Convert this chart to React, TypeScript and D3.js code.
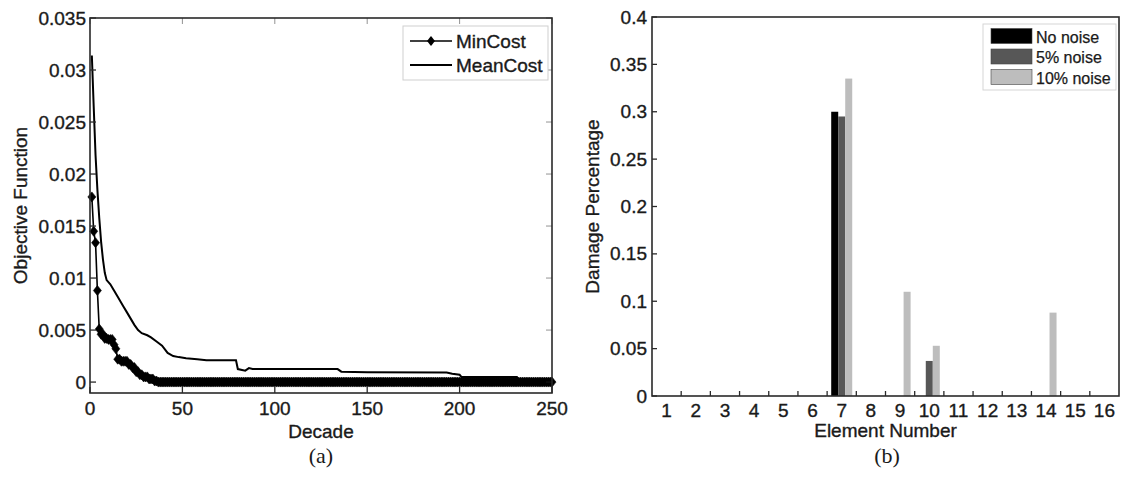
import React from "react";
import * as d3 from "d3";

// ---------- Panel (a) data ----------
const decadeTicks = [0, 50, 100, 150, 200, 250];
const costTicks = [0, 0.005, 0.01, 0.015, 0.02, 0.025, 0.03, 0.035];
const costTickLabels = ["0", "0.005", "0.01", "0.015", "0.02", "0.025", "0.03", "0.035"];
const lastDecade = 250;

// MinCost: best-so-far value, given as [first decade of run, value]
const minCostRuns: [number, number][] = [
  [1, 0.0178], [2, 0.0145], [3, 0.0134], [4, 0.0088], [5, 0.0051], [6, 0.0046],
  [8, 0.0042], [10, 0.0041], [13, 0.0036], [14, 0.0032], [15, 0.0022], [17, 0.002],
  [21, 0.0017], [23, 0.0014], [25, 0.001], [27, 0.0007], [29, 0.0005], [32, 0.0003],
  [35, 0.0001], [37, 0],
];

// MeanCost: [decade, value]
const meanCost: [number, number][] = [
  [1, 0.0314], [2, 0.0265], [3, 0.0218], [4, 0.0185], [5, 0.0158], [6, 0.0135],
  [7, 0.0118], [8, 0.0105], [9, 0.0098], [11, 0.0094], [13, 0.0088], [15, 0.0082],
  [18, 0.0073], [20, 0.0067], [22, 0.0061], [24, 0.0055], [26, 0.005], [28, 0.0047],
  [31, 0.0045], [33, 0.0043], [36, 0.0039], [39, 0.0035], [42, 0.0028], [45, 0.0025],
  [48, 0.0024], [52, 0.0023], [58, 0.0022], [63, 0.0021], [79, 0.0021], [80, 0.00125],
  [84, 0.0011], [86, 0.00134], [88, 0.00125], [134, 0.00125], [136, 0.001],
  [150, 0.00095], [193, 0.00093], [196, 0.0008], [200, 0.0007], [201, 0.0005],
  [231, 0.0005], [232, 0.0002], [250, 0.0002],
];

// ---------- Panel (b) data ----------
const elements = [1, 2, 3, 4, 5, 6, 7, 8, 9, 10, 11, 12, 13, 14, 15, 16];
const noNoise = [0, 0, 0, 0, 0, 0, 0.3, 0, 0, 0, 0, 0, 0, 0, 0, 0];
const noise5 = [0, 0, 0, 0, 0, 0, 0.295, 0, 0, 0.037, 0, 0, 0, 0, 0, 0];
const noise10 = [0, 0, 0, 0, 0, 0, 0.335, 0, 0.11, 0.053, 0, 0, 0, 0.088, 0, 0];
const seriesNames = ["No noise", "5% noise", "10% noise"];
const seriesColors = ["#000000", "#575757", "#bdbdbd"];
const damageTicks = [0, 0.05, 0.1, 0.15, 0.2, 0.25, 0.3, 0.35, 0.4];
const damageTickLabels = ["0", "0.05", "0.1", "0.15", "0.2", "0.25", "0.3", "0.35", "0.4"];

const FONT = "'Liberation Sans', Arial, Helvetica, sans-serif";
const SERIF = "'Liberation Serif', 'Times New Roman', serif";
const INK = "#1a1a1a";
const AX = "#2a2a2a";
const txt = { fontFamily: FONT, fill: INK, stroke: INK, strokeWidth: 0.35 } as const;

function expandRuns(runs: [number, number][], last: number): [number, number][] {
  const out: [number, number][] = [];
  let k = 0;
  for (let d = runs[0][0]; d <= last; d++) {
    while (k + 1 < runs.length && runs[k + 1][0] <= d) k++;
    out.push([d, runs[k][1]]);
  }
  return out;
}

const diamond = "M0,-5L4,0L0,5L-4,0Z";

function PanelA() {
  const L = 90, R = 552, T = 18, B = 393;
  const x = d3.scaleLinear().domain([0, 250]).range([L, R]);
  const y = d3.scaleLinear().domain([-0.00105, 0.035]).range([B, T]);
  const minPts = expandRuns(minCostRuns, lastDecade);
  const line = d3.line<[number, number]>().x((d) => x(d[0])).y((d) => y(d[1]));
  const tk = 6;
  return (
    <g>
      <rect x={L} y={T} width={R - L} height={B - T} fill="#fff" />
      <path d={line(meanCost) || ""} fill="none" stroke="#000" strokeWidth={2} />
      <path d={line(minPts) || ""} fill="none" stroke="#000" strokeWidth={1.6} />
      {minPts.map((p, i) => (
        <path key={i} d={diamond} transform={`translate(${x(p[0])},${y(p[1])})`} fill="#000" stroke="#000" strokeWidth={0.6} />
      ))}
      <rect x={L} y={T} width={R - L} height={B - T} fill="none" stroke={AX} strokeWidth={1.6} />
      {decadeTicks.map((t) => (
        <g key={"xt" + t}>
          <line x1={x(t)} x2={x(t)} y1={B} y2={B - tk} stroke={AX} strokeWidth={1.3} />
          <line x1={x(t)} x2={x(t)} y1={T} y2={T + tk} stroke={AX} strokeWidth={1} opacity={0.5} />
          <text x={x(t)} y={415} textAnchor="middle" fontSize={19} {...txt}>{t}</text>
        </g>
      ))}
      {costTicks.map((t, i) => (
        <g key={"yt" + t}>
          <line x1={L} x2={L + tk} y1={y(t)} y2={y(t)} stroke={AX} strokeWidth={1.3} />
          <line x1={R} x2={R - tk} y1={y(t)} y2={y(t)} stroke={AX} strokeWidth={1} opacity={0.5} />
          <text x={L - 4} y={y(t) + 6.5} textAnchor="end" fontSize={19} {...txt}>{costTickLabels[i]}</text>
        </g>
      ))}
      <text x={(L + R) / 2} y={438} textAnchor="middle" fontSize={19} {...txt}>Decade</text>
      <text transform={`translate(27,${(T + B) / 2}) rotate(-90)`} textAnchor="middle" fontSize={19} {...txt}>Objective Function</text>
      <rect x={403} y={26} width={145} height={54} fill="#fff" stroke="#cfcfcf" strokeWidth={1} />
      <line x1={410} x2={452} y1={41} y2={41} stroke="#000" strokeWidth={1.6} />
      <path d={diamond} transform="translate(431,41)" fill="#000" />
      <text x={456} y={47.5} fontSize={19} {...txt}>MinCost</text>
      <line x1={410} x2={452} y1={65} y2={65} stroke="#000" strokeWidth={2} />
      <text x={456} y={72} fontSize={19} {...txt}>MeanCost</text>
      <text x={(L + R) / 2} y={463} textAnchor="middle" fontSize={22} fontFamily={SERIF} fill={INK}>(a)</text>
    </g>
  );
}

function PanelB() {
  const L = 652, R = 1119, T = 17, B = 396;
  const x = d3.scaleLinear().domain([0.5, 16.5]).range([L, R]);
  const y = d3.scaleLinear().domain([0, 0.4]).range([B, T]);
  const series = [noNoise, noise5, noise10];
  const bw = 0.24;
  const tk = 5;
  const halfTicks = elements.slice(0, -1).map((e) => e + 0.5);
  return (
    <g>
      <rect x={L} y={T} width={R - L} height={B - T} fill="#fff" />
      {series.map((s, si) =>
        s.map((v, i) =>
          v > 0 ? (
            <rect key={si + "-" + i}
              x={x(elements[i] + (si - 1) * bw - bw / 2)}
              y={y(v)}
              width={x(bw) - x(0)}
              height={y(0) - y(v)}
              fill={seriesColors[si]} />
          ) : null
        )
      )}
      <rect x={L} y={T} width={R - L} height={B - T} fill="none" stroke={AX} strokeWidth={1.6} />
      {halfTicks.map((t) => (
        <line key={"bt" + t} x1={x(t)} x2={x(t)} y1={B} y2={B - tk} stroke={AX} strokeWidth={1.3} />
      ))}
      {elements.map((e) => (
        <text key={"bl" + e} x={x(e)} y={417} textAnchor="middle" fontSize={19} {...txt}>{e}</text>
      ))}
      {damageTicks.map((t, i) => (
        <g key={"dt" + t}>
          <line x1={L} x2={L + tk} y1={y(t)} y2={y(t)} stroke={AX} strokeWidth={1.3} />
          <text x={L - 5} y={y(t) + 6.5} textAnchor="end" fontSize={19} {...txt}>{damageTickLabels[i]}</text>
        </g>
      ))}
      <text x={(L + R) / 2} y={437} textAnchor="middle" fontSize={19} {...txt}>Element Number</text>
      <text transform={`translate(599,${(T + B) / 2}) rotate(-90)`} textAnchor="middle" fontSize={19} {...txt}>Damage Percentage</text>
      <rect x={983} y={24} width={133} height={66} fill="#fff" stroke="#d5d5d5" strokeWidth={1} />
      {seriesNames.map((n, i) => (
        <g key={n}>
          <rect x={991} y={28.5 + i * 20.5} width={41} height={15} fill={seriesColors[i]} stroke="#444" strokeWidth={0.6} />
          <text x={1036} y={42.5 + i * 20.7} fontSize={16} {...txt} strokeWidth={0.25}>{n}</text>
        </g>
      ))}
      <text x={887} y={463} textAnchor="middle" fontSize={22} fontFamily={SERIF} fill={INK}>(b)</text>
    </g>
  );
}

export default function App() {
  return (
    <svg width={1121} height={477} style={{ position: "absolute", left: 0, top: 0, background: "#fff" }}>
      <rect width={1121} height={477} fill="#fff" />
      <PanelA />
      <PanelB />
    </svg>
  );
}
